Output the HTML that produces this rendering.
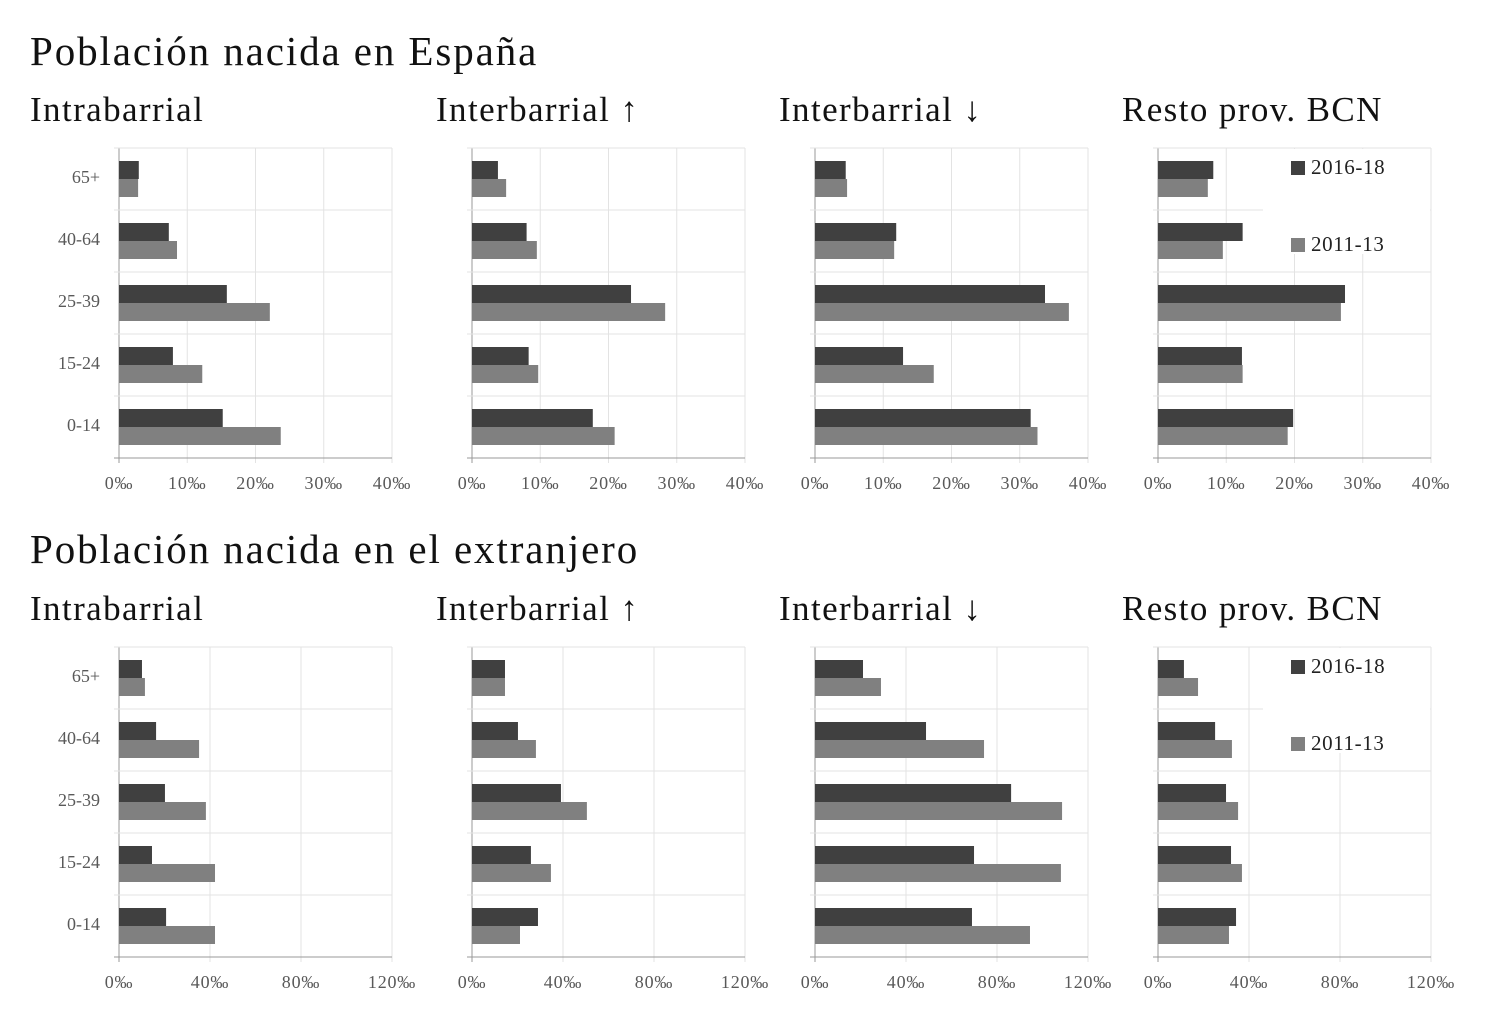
<!DOCTYPE html>
<html><head><meta charset="utf-8">
<style>
html,body{margin:0;padding:0;background:#fff;}
svg{display:block;font-family:"Liberation Serif",serif;}
</style></head>
<body>
<svg id="c" width="1500" height="1032" xmlns="http://www.w3.org/2000/svg">
<text x="30" y="65" font-size="41" letter-spacing="1.9" fill="#111">Población nacida en España</text>
<text x="30" y="563" font-size="41" letter-spacing="1.9" fill="#111">Población nacida en el extranjero</text>
</svg>
<script>
const categories = ["65+","40-64","25-39","15-24","0-14"];
const panelTitles = ["Intrabarrial","Interbarrial ↑","Interbarrial ↓","Resto prov. BCN"];
const seriesNames = ["2016-18","2011-13"];
const topTicks = [0,10,20,30,40];
const bottomTicks = [0,40,80,120];
// top row (Spain), per panel: [recent, older]
const spainIntraRecent = [2.9,7.3,15.8,7.9,15.2];
const spainIntraOld    = [2.8,8.5,22.1,12.2,23.7];
const spainUpRecent    = [3.8,8.0,23.3,8.3,17.7];
const spainUpOld       = [5.0,9.5,28.3,9.7,20.9];
const spainDownRecent  = [4.5,11.9,33.7,12.9,31.6];
const spainDownOld     = [4.7,11.6,37.2,17.4,32.6];
const spainRestRecent  = [8.1,12.4,27.4,12.3,19.8];
const spainRestOld     = [7.3,9.5,26.8,12.4,19.0];
// bottom row (foreign)
const forIntraRecent = [10.1,16.3,20.2,14.5,20.7];
const forIntraOld    = [11.4,35.2,38.2,42.2,42.2];
const forUpRecent    = [14.5,20.2,39.1,25.9,29.0];
const forUpOld       = [14.5,28.1,50.5,34.7,21.1];
const forDownRecent  = [21.1,48.8,86.2,69.9,69.0];
const forDownOld     = [29.0,74.3,108.6,108.1,94.5];
const forRestRecent  = [11.4,25.1,29.9,32.1,34.3];
const forRestOld     = [17.6,32.5,35.2,36.9,31.2];

const svg=document.getElementById('c');
const NS='http://www.w3.org/2000/svg';
function mk(tag,attrs,parent){const e=document.createElementNS(NS,tag);for(const k in attrs)e.setAttribute(k,attrs[k]);(parent||svg).appendChild(e);return e;}
const panelX=[119,472,815,1158];
const W=273, H=310;
const rows=[
 {top:148,titleY:121,ticks:topTicks,max:40,data:[[spainIntraRecent,spainIntraOld],[spainUpRecent,spainUpOld],[spainDownRecent,spainDownOld],[spainRestRecent,spainRestOld]],key:'spain'},
 {top:647,titleY:620,ticks:bottomTicks,max:120,data:[[forIntraRecent,forIntraOld],[forUpRecent,forUpOld],[forDownRecent,forDownOld],[forRestRecent,forRestOld]],key:'foreign'}
];
const titleX=[30,436,779,1122];
const colors=["#404040","#808080"];
rows.forEach((row,ri)=>{
 panelX.forEach((px,pi)=>{
  const g=mk('g',{});
  
  
  const xs=v=>px+v/row.max*W;
  const bandH=H/categories.length;
  const t=mk('text',{x:titleX[pi],y:row.titleY,'font-size':35,'letter-spacing':1.4,fill:'#111'},g);
  t.textContent=panelTitles[pi];
  
  
  row.ticks.forEach(tv=>{
   const gl=mk('line',{x1:xs(tv),x2:xs(tv),y1:row.top,y2:row.top+H+5,stroke:tv===0?'#999':'#e3e3e3','stroke-width':1},g);
   
   
   const tl=mk('text',{x:xs(tv),y:row.top+H+31,'font-size':18,'letter-spacing':0.8,fill:'#595959','text-anchor':'middle'},g);
   tl.textContent=tv+'‰';
   
   
  });
  for(let i=0;i<=categories.length;i++){
   const y=row.top+i*bandH;
   const hl=mk('line',{x1:px-5,x2:px+W,y1:y,y2:y,stroke:i===categories.length?'#999':'#e3e3e3','stroke-width':1},g);
   
   
  }
  categories.forEach((c,ci)=>{
   const by=row.top+ci*bandH;
   if(pi===0){
    const cl=mk('text',{x:100,y:by+bandH/2+4,'font-size':18,fill:'#595959','text-anchor':'end'},g);
    cl.textContent=c;
    
    
   }
   row.data[pi].forEach((ser,si)=>{
    const r=mk('rect',{x:px,y:by+13+si*18,width:xs(ser[ci])-px,height:18,fill:colors[si]},g);
    
    
   });
  });
  if(pi===3){
   const lg=mk('g',{},g);
   
   
   mk('rect',{x:1263,y:row.top+1,width:167,height:105,fill:'#fff'},lg);
   seriesNames.forEach((s,si)=>{
    const sy=row.top+13+si*77;
    const sq=mk('rect',{x:1291,y:sy,width:14,height:14,fill:colors[si]},lg);
    
    
    const lt=mk('text',{x:1311,y:sy+13,'font-size':21,'letter-spacing':0.6,fill:'#222'},lg);
    lt.textContent=s;
    
    
   });
  }
 });
});
</script>
</body></html>
